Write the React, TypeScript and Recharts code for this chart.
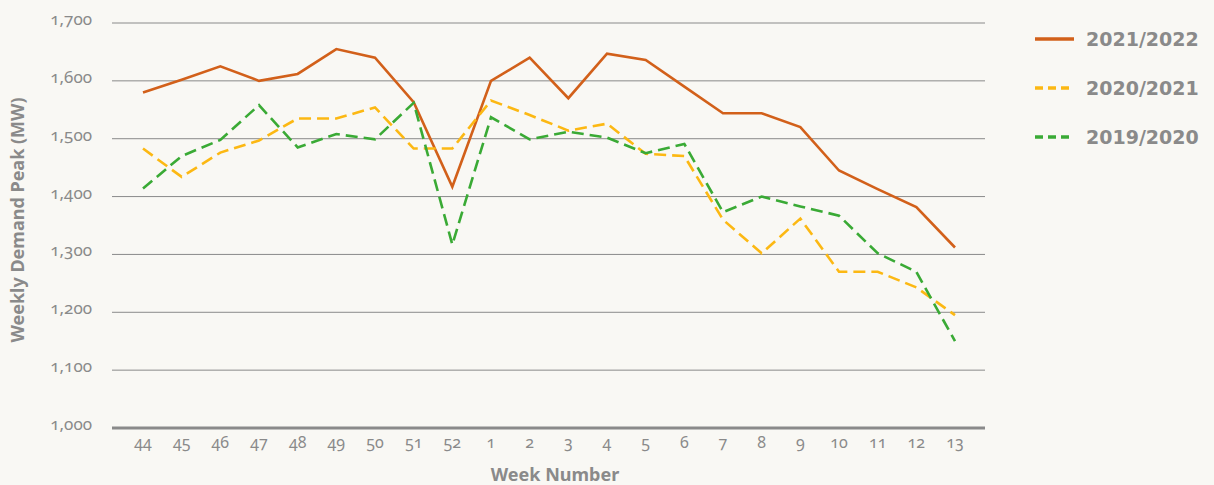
import { LineChart, Line, XAxis, YAxis, CartesianGrid } from 'recharts';

const WEEKS = ['44', '45', '46', '47', '48', '49', '50', '51', '52', '1', '2', '3', '4', '5', '6', '7', '8', '9', '10', '11', '12', '13'];
const PEAK_2122 = [1580, 1602, 1625, 1600, 1612, 1655, 1640, 1563, 1417, 1600, 1640, 1570, 1647, 1636, 1590, 1544, 1544, 1520, 1445, 1413, 1382, 1312];
const PEAK_2021 = [1483, 1434, 1476, 1497, 1535, 1535, 1554, 1483, 1483, 1566, 1541, 1514, 1526, 1474, 1470, 1360, 1302, 1362, 1270, 1270, 1243, 1195];
const PEAK_1920 = [1414, 1470, 1498, 1558, 1485, 1508, 1499, 1562, 1317, 1537, 1499, 1512, 1502, 1475, 1491, 1373, 1400, 1383, 1367, 1302, 1270, 1150];
const Y_TICKS = [1000, 1100, 1200, 1300, 1400, 1500, 1600, 1700];

const SERIES = [
  { key: 'y2122', name: '2021/2022', color: '#d2601a', dash: undefined },
  { key: 'y2021', name: '2020/2021', color: '#fcb813', dash: '12 6' },
  { key: 'y1920', name: '2019/2020', color: '#3aaa35', dash: '12 6' },
];

const GREY = '#8a8a8a';
const BG = '#f9f8f4';
const TICK_FONT = '"Noto Sans", sans-serif';

const data = WEEKS.map((w, i) => ({
  week: w,
  y2122: PEAK_2122[i],
  y2021: PEAK_2021[i],
  y1920: PEAK_1920[i],
}));

function LegendBox() {
  return (
    <div style={{ position: 'absolute', left: 1035, top: 25, display: 'flex', flexDirection: 'column', gap: 21 }}>
      {SERIES.map(s => (
        <div key={s.key} style={{ display: 'flex', alignItems: 'center', height: 28 }}>
          <svg width={40} height={6} style={{ marginRight: 11 }}>
            <line x1={0} y1={3} x2={39} y2={3} stroke={s.color} strokeWidth={3.5}
              strokeDasharray={s.dash ? '8 5' : undefined} />
          </svg>
          <span style={{ fontFamily: '"DejaVu Sans", Verdana, sans-serif', fontWeight: 700, fontSize: 19, color: GREY }}>
            {s.name}
          </span>
        </div>
      ))}
    </div>
  );
}

export default function App() {
  return (
    <div style={{ position: 'absolute', left: 0, top: 0, width: 1214, height: 485, background: BG }}>
      <LineChart width={1214} height={485} data={data} margin={{ top: 23, right: 229, bottom: 27, left: 0 }}>
        <CartesianGrid horizontal vertical={false} stroke={GREY} strokeWidth={1} />
        <XAxis
          dataKey="week"
          height={30}
          interval={0}
          padding={{ left: 31, right: 30 }}
          tickSize={0}
          tickMargin={9}
          axisLine={{ stroke: GREY, strokeWidth: 3 }}
          tick={{ fill: GREY, fontSize: 16, fontFamily: TICK_FONT, style: { fontVariantNumeric: 'oldstyle-nums' } }}
          label={{
            content: () => (
              <text x={555} y={481} textAnchor="middle" fill={GREY} fontSize={18} fontWeight={700}
                fontFamily={TICK_FONT}>Week Number</text>
            ),
          }}
        />
        <YAxis
          width={112}
          domain={[1000, 1700]}
          ticks={Y_TICKS}
          axisLine={false}
          tickSize={0}
          tickMargin={20}
          tickFormatter={(v: number) => v.toLocaleString('en-US')}
          tick={{ fill: GREY, fontSize: 17, dy: -4, fontFamily: TICK_FONT, style: { fontVariantNumeric: 'oldstyle-nums' } }}
          label={{
            content: () => (
              <text x={24} y={220} textAnchor="middle" transform="rotate(-90 24 220)" fill={GREY} fontSize={18}
                fontWeight={700} fontFamily={TICK_FONT}>Weekly Demand Peak (MW)</text>
            ),
          }}
        />
        {SERIES.map(s => (
          <Line
            key={s.key}
            type="linear"
            dataKey={s.key}
            name={s.name}
            stroke={s.color}
            strokeWidth={2.6}
            strokeDasharray={s.dash}
            dot={false}
            activeDot={false}
            isAnimationActive={false}
          />
        ))}
      </LineChart>
      <LegendBox />
    </div>
  );
}
